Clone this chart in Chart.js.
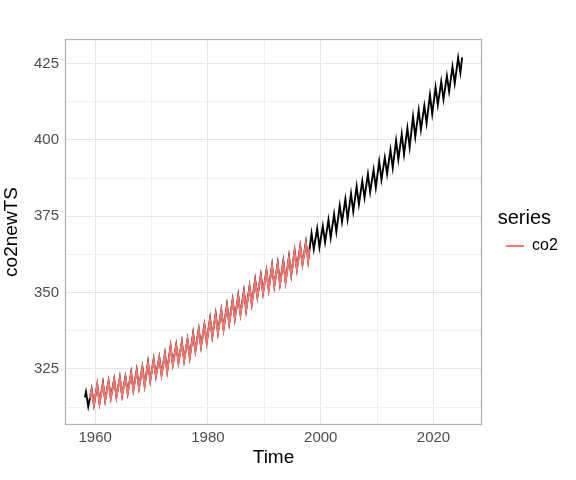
<!DOCTYPE html>
<html>
<head>
<meta charset="utf-8">
<script src="https://cdn.jsdelivr.net/npm/chart.js@4.4.1/dist/chart.umd.min.js"></script>
<style>
  html, body { margin: 0; padding: 0; background: #ffffff; }
</style>
</head>
<body>
<canvas id="co2-chart" width="576" height="480"></canvas>
<script>
// co2newTS (black): seasonal highs (May) and lows (Oct) per year, 1958-2024
var firstYearNew = 1958;
var co2newHigh = [
    317.5, 318.3, 319.9, 320.4, 321.0, 321.6, 322.2, 322.4, 323.8, 324.7,
    325.6, 327.2, 328.2, 328.8, 330.0, 332.4, 332.9, 333.9, 334.7, 336.6,
    338.0, 339.4, 341.5, 343.0, 344.3, 345.9, 347.6, 349.0, 350.4, 352.0,
    354.2, 355.7, 357.1, 359.0, 359.6, 360.3, 361.8, 363.7, 365.2, 366.5,
    369.4, 371.0, 371.8, 373.8, 375.7, 378.5, 380.6, 382.4, 384.8, 386.5,
    388.8, 390.2, 393.0, 394.2, 396.8, 399.8, 401.9, 403.9, 407.6, 409.7,
    411.2, 414.7, 417.3, 419.1, 421.0, 424.0, 426.9
];
var co2newLow = [
    312.7, 313.3, 313.8, 314.8, 315.5, 315.9, 316.4, 317.1, 318.2, 318.9,
    319.6, 321.3, 322.7, 323.2, 324.3, 326.6, 327.2, 327.9, 328.9, 331.0,
    332.4, 333.7, 335.7, 336.9, 338.1, 340.0, 341.5, 343.0, 344.3, 346.3,
    348.7, 350.0, 351.1, 352.3, 352.9, 353.7, 355.8, 357.7, 359.4, 360.5,
    364.2, 364.9, 366.5, 368.0, 369.9, 373.1, 374.1, 376.6, 378.9, 381.1,
    382.9, 384.4, 387.0, 388.9, 390.9, 393.6, 395.3, 397.6, 401.0, 403.4,
    405.5, 408.5, 411.5, 413.3, 415.9, 418.5, 422.0
];
var co2newStart = [1958.17, 315.7];
var co2newEnd = [2025.08, 427.0];

// co2 (red): 1959-1997
var firstYearOld = 1959;
var co2High = [
    318.1, 319.9, 320.1, 320.8, 321.4, 322.0, 322.2, 323.6, 324.5,
    325.4, 327.0, 328.0, 328.6, 329.8, 332.2, 332.7, 333.7, 334.5, 336.4,
    337.8, 339.2, 341.2, 342.7, 344.0, 345.6, 347.3, 348.7, 350.1, 351.7,
    353.9, 355.4, 356.8, 358.7, 359.3, 360.0, 361.5, 363.4, 364.9, 366.2
];
var co2Low = [
    313.2, 313.7, 314.7, 315.4, 315.8, 316.3, 317.0, 318.1, 318.8,
    319.5, 321.2, 322.6, 323.1, 324.2, 326.5, 327.1, 327.8, 328.8, 330.9,
    332.3, 333.6, 335.6, 336.8, 338.0, 339.9, 341.4, 342.9, 344.2, 346.2,
    348.6, 349.9, 351.0, 352.2, 352.8, 353.6, 355.7, 357.6, 359.3, 360.4
];
var co2Start = [1959.0, 315.4];
var co2End = [1997.96, 364.2];

// axes
var xTicks = [1960, 1970, 1980, 1990, 2000, 2010, 2020];
var xLabels = [1960, 1980, 2000, 2020];
var yTicks = [312.5, 325, 337.5, 350, 362.5, 375, 387.5, 400, 412.5, 425];
var yLabels = [325, 350, 375, 400, 425];

// where in the year the seasonal peak / trough sits
var HIGH_AT = 0.37;
var LOW_AT = 0.77;

function toPoints(start, firstYear, highs, lows, end) {
    var pts = [{ x: start[0], y: start[1] }];
    highs.forEach(function (h, i) {
        pts.push({ x: firstYear + i + HIGH_AT, y: h });
        pts.push({ x: firstYear + i + LOW_AT, y: lows[i] });
    });
    pts.push({ x: end[0], y: end[1] });
    return pts;
}

var co2newPoints = toPoints(co2newStart, firstYearNew, co2newHigh, co2newLow, co2newEnd);
var co2Points = toPoints(co2Start, firstYearOld, co2High, co2Low, co2End);

// ggplot style 5% expansion
function expand(values) {
    var lo = Math.min.apply(null, values), hi = Math.max.apply(null, values);
    var pad = (hi - lo) * 0.05;
    return [lo - pad, hi + pad];
}
var allPts = co2newPoints.concat(co2Points);
var xRange = expand(allPts.map(function (p) { return p.x; }));
var yRange = expand(allPts.map(function (p) { return p.y; }));

Chart.defaults.font.family = '"Liberation Sans", Arial, sans-serif';

var gridColor = function (labels) {
    return function (c) {
        return labels.indexOf(c.tick.value) >= 0 ? "#E4E4E4" : "#F0F0F0";
    };
};

// panel border drawn over the data like ggplot
var panelBorder = {
    id: 'panelBorder',
    afterDatasetsDraw: function (chart) {
        var a = chart.chartArea, c = chart.ctx;
        c.save();
        c.strokeStyle = "#B3B3B3";
        c.lineWidth = 1.3;
        c.strokeRect(a.left - 0.5, a.top - 0.5, a.right - a.left + 1, a.bottom - a.top + 1);
        c.restore();
    }
};

var ctx = document.getElementById("co2-chart").getContext("2d");
var co2Chart = new Chart(ctx, {
    type: "line",
    data: {
        datasets: [{
                label: "co2",
                data: co2Points,
                borderColor: "#F8766D",
                backgroundColor: "#F8766D",
                borderWidth: 1.9,
                pointRadius: 0,
                tension: 0
            },
            {
                label: "co2newTS",
                data: co2newPoints,
                borderColor: "#000000",
                backgroundColor: "#000000",
                borderWidth: 1.9,
                pointRadius: 0,
                tension: 0
            }
        ]
    },
    options: {
        responsive: false,
        animation: false,
        devicePixelRatio: 1,
        layout: { padding: { top: 40, left: 0, right: 8.2, bottom: 0 } },
        scales: {
            x: {
                type: "linear",
                min: xRange[0],
                max: xRange[1],
                afterBuildTicks: function (s) { s.ticks = xTicks.map(function (v) { return { value: v }; }); },
                afterFit: function (s) { s.height = 56; },
                grid: { color: gridColor(xLabels), lineWidth: 1, drawTicks: false },
                border: { display: false },
                ticks: {
                    autoSkip: false,
                    maxRotation: 0,
                    padding: 5,
                    color: "#4D4D4D",
                    font: { size: 15 },
                    callback: function (v) { return xLabels.indexOf(v) >= 0 ? String(v) : ""; }
                },
                title: { display: true, text: "Time", color: "#000000", font: { size: 19 }, padding: { top: 0, bottom: 11 } }
            },
            y: {
                type: "linear",
                min: yRange[0],
                max: yRange[1],
                afterBuildTicks: function (s) { s.ticks = yTicks.map(function (v) { return { value: v }; }); },
                afterFit: function (s) { s.width = 66; },
                grid: { color: gridColor(yLabels), lineWidth: 1, drawTicks: false },
                border: { display: false },
                ticks: {
                    autoSkip: false,
                    padding: 7,
                    color: "#4D4D4D",
                    font: { size: 15 },
                    callback: function (v) { return yLabels.indexOf(v) >= 0 ? String(v) : ""; }
                },
                title: { display: true, text: "co2newTS", color: "#000000", font: { size: 19 }, padding: { top: 0, bottom: 0 } }
            }
        },
        plugins: {
            legend: {
                position: "right",
                align: "start",
                title: {
                    display: true,
                    text: "series",
                    color: "#000000",
                    font: { size: 20, lineHeight: 0.25 },
                    padding: { top: 168, bottom: 0 }
                },
                labels: {
                    filter: function (item) { return item.datasetIndex === 0; },
                    usePointStyle: true,
                    pointStyle: "line",
                    pointStyleWidth: 18,
                    color: "#000000",
                    font: { size: 16 },
                    padding: 25
                }
            },
            tooltip: { enabled: false }
        }
    },
    plugins: [panelBorder]
});
</script>
</body>
</html>
